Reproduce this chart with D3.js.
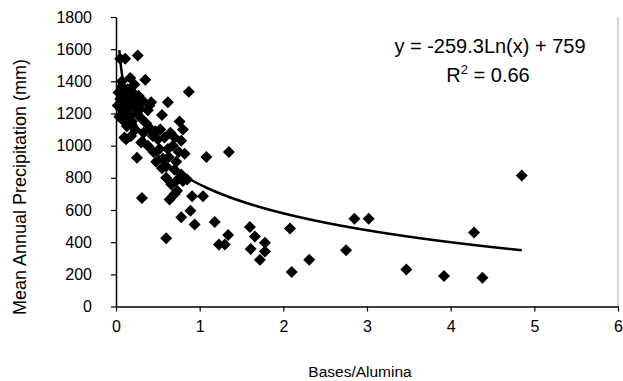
<!DOCTYPE html>
<html><head><meta charset="utf-8">
<script src="https://cdn.jsdelivr.net/npm/d3@7"></script>
<style>body{margin:0;background:#fff}svg{display:block}text{font-family:"Liberation Sans",Arial,sans-serif;fill:#000}</style>
</head><body>
<svg id="c" width="623" height="381"></svg>
<script>
const xTicks = [0,1,2,3,4,5,6];
const yTicks = [0,200,400,600,800,1000,1200,1400,1600,1800];
const xTitle = "Bases/Alumina";
const yTitle = "Mean Annual Precipitation (mm)";
const eqText = "y = -259.3Ln(x) + 759";
const r2Value = "0.66";
const trendA = -259.3, trendB = 759;
const trendRange = [0.04, 4.85];
const basesAlumina = [
 0.02,0.03,0.04,0.05,0.06,0.07,0.08,0.09,0.10,0.05,0.11,0.26,0.07,0.10,0.12,0.08,
 0.12,0.13,0.14,0.15,0.16,0.17,0.18,0.19,0.20,0.21,0.22,0.23,0.24,0.25,0.13,0.18,0.25,
 0.27,0.29,0.30,0.32,0.33,0.35,0.36,0.38,0.40,0.42,0.44,0.31,0.30,0.38,0.42,0.45,
 0.47,0.50,0.52,0.53,0.55,0.56,0.58,0.60,0.60,0.62,0.62,0.64,0.60,0.48,0.55,0.65,0.63,0.66,
 0.68,0.70,0.70,0.72,0.73,0.75,0.76,0.78,0.78,0.80,0.80,0.82,0.70,0.72,0.87,0.78,0.85,
 1.08,1.35,0.91,1.04,0.89,0.94,1.18,1.60,1.66,1.34,1.23,1.30,1.78,1.78,1.61,1.72,2.08,2.31,2.10,
 2.75,2.85,3.02,3.47,3.92,4.28,4.38,4.85
];
const precipitation = [
 1250,1330,1180,1290,1230,1370,1160,1310,1260,1540,1540,1560,1400,1050,1040,1330,
 1200,1300,1350,1250,1180,1420,1290,1150,1330,1240,1380,1100,1260,1200,1120,1060,925,
 1310,1230,1170,1280,1080,1410,1140,1220,1250,1270,1060,675,1020,1000,1100,960,
 1090,1040,980,1100,1190,920,1050,870,800,1270,980,665,425,900,860,1080,930,760,
 1000,1050,850,900,720,960,1150,1030,820,1100,780,950,700,780,1335,555,790,
 930,960,685,685,595,510,525,495,435,445,385,385,397,342,358,290,485,290,215,
 350,545,545,230,190,460,178,815
];

const svg = d3.select("#c");
const m = {l:116, r:618, t:17, b:306.5};
const x = d3.scaleLinear().domain([0,6]).range([m.l, m.r]);
const y = d3.scaleLinear().domain([0,1800]).range([m.b, m.t]);

// plot area right border
svg.append("line").attr("x1", m.r).attr("x2", m.r).attr("y1", m.t).attr("y2", m.b)
  .attr("stroke", "#aaa").attr("stroke-width", 1);

const xAxis = svg.append("g").attr("transform", `translate(0,${m.b})`)
  .call(d3.axisBottom(x).tickValues(xTicks).tickFormat(d3.format("d")).tickSize(5).tickSizeOuter(0).tickPadding(9));
const yAxis = svg.append("g").attr("transform", `translate(${m.l},0)`)
  .call(d3.axisLeft(y).tickValues(yTicks).tickFormat(d3.format("d")).tickSize(5).tickSizeOuter(0).tickPadding(19));
[xAxis, yAxis].forEach(g => {
  g.select(".domain").attr("stroke", "#000").attr("stroke-width", 1.5);
  g.selectAll(".tick line").attr("stroke", "#000").attr("stroke-width", 1.2);
  g.selectAll("text").attr("font-size", 16).attr("font-family", '"Liberation Sans",Arial,sans-serif').attr("fill", "#000");
});

// logarithmic trendline
const tx = d3.range(0, 201).map(i => trendRange[0] * Math.pow(trendRange[1] / trendRange[0], i / 200));
svg.append("path").datum(tx)
  .attr("d", d3.line().x(d => x(d)).y(d => y(trendA * Math.log(d) + trendB)))
  .attr("fill", "none").attr("stroke", "#000").attr("stroke-width", 2.5);

// diamond markers
const sym = d3.symbol().type(d3.symbolSquare).size(72);
svg.append("g").selectAll("path").data(basesAlumina.map((v, i) => [v, precipitation[i]])).join("path")
  .attr("d", sym)
  .attr("transform", d => `translate(${x(d[0])},${y(d[1])}) rotate(45)`)
  .attr("fill", "#000");

// equation
svg.append("text").attr("x", 490).attr("y", 53).attr("text-anchor", "middle").attr("font-size", 20).text(eqText);
const r2 = svg.append("text").attr("x", 488).attr("y", 82).attr("text-anchor", "middle").attr("font-size", 20);
r2.append("tspan").text("R");
r2.append("tspan").attr("font-size", 13).attr("dy", -8).text("2");
r2.append("tspan").attr("dy", 8).text(" = " + r2Value);

// axis titles
svg.append("text").attr("x", 360).attr("y", 377).attr("text-anchor", "middle").attr("font-size", 15.5).text(xTitle);
svg.append("text").attr("transform", "translate(26,187) rotate(-90)").attr("text-anchor", "middle").attr("font-size", 18).text(yTitle);
</script>
</body></html>
